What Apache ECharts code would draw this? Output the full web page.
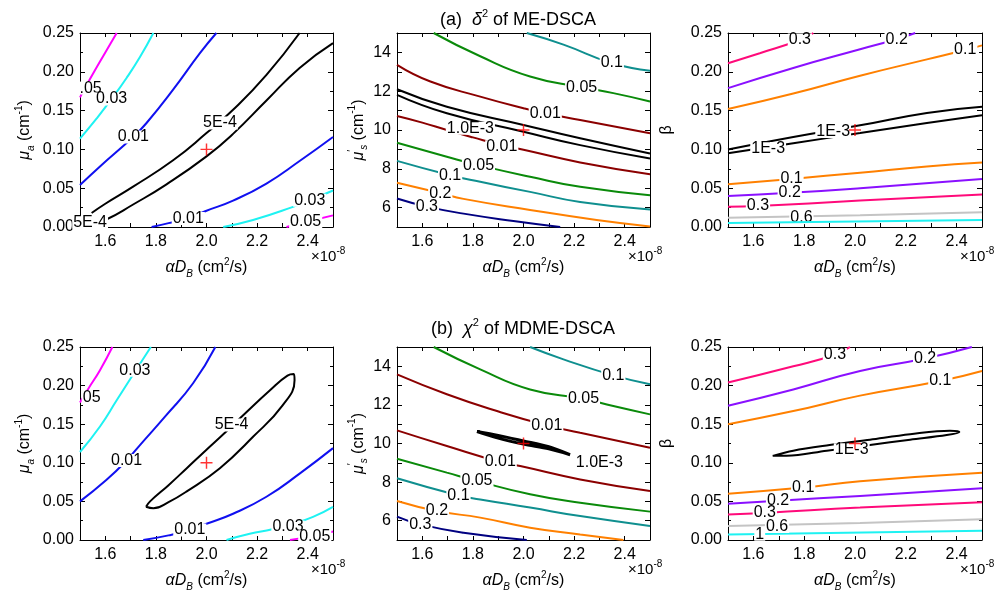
<!DOCTYPE html>
<html><head><meta charset="utf-8">
<script src="https://cdn.jsdelivr.net/npm/echarts@6/dist/echarts.min.js"></script>
<style>html,body{margin:0;padding:0;background:#fff}#c{width:1000px;height:599px}</style>
</head><body><div id="c"></div>
<script>
// ---------- Panel 1 : (a) mu_a vs alphaDB ----------
const a1_005_up = [[1.5,0.167],[1.54,0.191],[1.6,0.225],[1.645,0.25]];
const a1_003_up = [[1.5,0.114],[1.566,0.140],[1.625,0.165],[1.684,0.192],[1.737,0.219],[1.79,0.25]];
const a1_001_up = [[1.5,0.054],[1.579,0.078],[1.71,0.116],[1.763,0.134],[1.868,0.177],[1.974,0.224],[2.039,0.25]];
const a1_5e4_up = [[1.546,0.018],[1.6,0.03],[1.71,0.052],[1.868,0.086],[2.0,0.121],[2.105,0.151],[2.237,0.196],[2.368,0.25]];
const a1_5e4_lo = [[1.52,0.0],[1.6,0.009],[1.71,0.029],[1.842,0.055],[2.0,0.091],[2.105,0.12],[2.237,0.163],[2.368,0.205],[2.5,0.237]];
const a1_001_lo = [[1.783,0],[1.85,0.005],[1.93,0.012],[2.0,0.021],[2.105,0.034],[2.237,0.056],[2.368,0.085],[2.5,0.116]];
const a1_003_lo = [[2.066,0],[2.184,0.009],[2.342,0.026],[2.42,0.036],[2.5,0.047]];
const a1_005_lo = [[2.316,0],[2.4,0.007],[2.5,0.015]];
const a1_labels = [['.05',1.542,0.179],['0.03',1.625,0.165],['0.01',1.711,0.116],['5E-4',2.053,0.134],['5E-4',1.54,0.006],['0.01',1.928,0.011],['0.03',2.408,0.0345],['0.05',2.392,0.0065]];
const a1_cross = [[2.0,0.1]];

// ---------- Panel 2 : (a) mu_s' vs alphaDB ----------
const a2_01_up = [[2.013,15],[2.158,14.4],[2.349,13.45],[2.5,13.05]];
const a2_005_up = [[1.645,15],[1.829,13.8],[2.026,12.76],[2.23,12.2],[2.355,11.9],[2.5,11.47]];
const a2_001_up = [[1.5,13.36],[1.632,12.5],[1.829,11.72],[2.0,11.12],[2.086,10.86],[2.224,10.52],[2.5,9.83]];
const a2_k_up = [[1.5,12.1],[1.697,11.2],[2.0,10.26],[2.224,9.57],[2.5,8.79]];
const a2_k_lo = [[1.5,11.81],[1.697,10.86],[2.0,9.91],[2.224,9.22],[2.5,8.53]];
const a2_001_lo = [[1.5,10.72],[1.6,10.38],[1.697,10.0],[1.8,9.62],[1.914,9.22],[2.0,8.98],[2.224,8.33],[2.5,7.72]];
const a2_005_lo = [[1.5,9.34],[1.697,8.62],[1.822,8.19],[2.026,7.59],[2.224,7.07],[2.5,6.64]];
const a2_01_lo = [[1.5,8.41],[1.71,7.67],[1.829,7.33],[2.026,6.81],[2.224,6.29],[2.5,5.9]];
const a2_02 = [[1.5,7.28],[1.671,6.75],[1.763,6.45],[2.026,5.88],[2.289,5.36],[2.5,5.03]];
const a2_03 = [[1.5,6.47],[1.618,6.05],[1.763,5.69],[1.96,5.31],[2.145,5.0]];
const a2_labels = [['0.1',2.349,13.45],['0.05',2.23,12.2],['0.01',2.086,10.86],['1.0E-3',1.79,10.09],['0.01',1.914,9.14],['0.05',1.822,8.19],['0.1',1.71,7.67],['0.2',1.671,6.72],['0.3',1.618,6.03]];
const a2_cross = [[2.0,10.0]];

// ---------- Panel 3 : (a) beta vs alphaDB ----------
const a3_03_up = [[1.5,0.211],[1.625,0.224],[1.783,0.241],[1.836,0.25]];
const a3_02_up = [[1.5,0.179],[1.757,0.205],[2.02,0.229],[2.164,0.242],[2.237,0.25]];
const a3_01_up = [[1.5,0.152],[1.757,0.172],[2.02,0.195],[2.283,0.216],[2.434,0.228],[2.5,0.234]];
const a3_k_up = [[1.5,0.1],[1.757,0.116],[2.02,0.131],[2.283,0.147],[2.5,0.155]];
const a3_k_lo = [[1.5,0.095],[1.757,0.108],[2.02,0.121],[2.283,0.134],[2.5,0.144]];
const a3_01_lo = [[1.5,0.055],[1.75,0.062],[2.02,0.07],[2.283,0.078],[2.5,0.083]];
const a3_02_lo = [[1.5,0.040],[1.743,0.044],[2.02,0.05],[2.5,0.062]];
const a3_03_lo = [[1.5,0.026],[1.618,0.027],[2.02,0.034],[2.5,0.042]];
const a3_06 = [[1.5,0.012],[2.02,0.015],[2.5,0.019]];
const a3_1 = [[1.5,0.005],[2.5,0.009]];
const a3_labels = [['0.3',1.783,0.241],['0.2',2.164,0.242],['0.1',2.434,0.228],['1E-3',1.914,0.123],['1E-3',1.658,0.101],['0.1',1.75,0.062],['0.2',1.743,0.044],['0.3',1.618,0.027],['0.6',1.789,0.012]];
const a3_cross = [[2.0,0.125]];

// ---------- Panel 4 : (b) mu_a vs alphaDB ----------
const b1_005_up = [[1.5,0.178],[1.533,0.196],[1.579,0.22],[1.628,0.25]];
const b1_003_up = [[1.5,0.114],[1.579,0.147],[1.645,0.181],[1.717,0.218],[1.78,0.25]];
const b1_001_up = [[1.5,0.05],[1.605,0.078],[1.684,0.103],[1.737,0.123],[1.842,0.162],[1.947,0.203],[2.035,0.25]];
const b1_5e4 = [[1.761,0.043],[1.777,0.050],[1.85,0.071],[1.922,0.093],[2.0,0.117],[2.060,0.135],[2.146,0.162],[2.251,0.194],[2.320,0.213],[2.345,0.215],[2.348,0.207],[2.30,0.174],[2.185,0.134],[2.053,0.093],[1.922,0.063],[1.85,0.049],[1.79,0.041],[1.761,0.043]];
const b1_001_lo = [[1.75,0],[1.85,0.006],[1.934,0.013],[2.0,0.021],[2.105,0.034],[2.237,0.056],[2.368,0.086],[2.5,0.119]];
const b1_003_lo = [[2.079,0],[2.171,0.008],[2.26,0.014],[2.34,0.021],[2.421,0.030],[2.5,0.043]];
const b1_005_lo = [[2.33,0],[2.42,0.005],[2.5,0.011]];
const b1_labels = [['05',1.546,0.185],['0.03',1.717,0.22],['0.01',1.684,0.103],['5E-4',2.099,0.149],['0.01',1.934,0.013],['0.03',2.322,0.017],['0.05',2.428,0.0043]];
const b1_cross = [[2.0,0.1]];

// ---------- Panel 5 : (b) mu_s' vs alphaDB ----------
const b2_01_up = [[2.026,15],[2.158,14.36],[2.355,13.53],[2.5,13.07]];
const b2_005_up = [[1.645,15],[1.829,13.84],[2.026,12.8],[2.237,12.32],[2.355,11.94],[2.5,11.51]];
const b2_001_up = [[1.5,13.58],[1.697,12.55],[1.895,11.68],[2.092,10.94],[2.224,10.56],[2.5,9.78]];
const b2_1e3 = [[1.816,10.62],[1.9,10.42],[2.0,10.13],[2.1,9.83],[2.184,9.42],[2.1,9.72],[2.0,9.97],[1.9,10.28],[1.816,10.62]];
const b2_001_lo = [[1.5,10.68],[1.697,9.87],[1.908,9.04],[1.987,8.83],[2.224,8.14],[2.5,7.54]];
const b2_005_lo = [[1.5,9.21],[1.697,8.49],[1.816,8.06],[2.026,7.37],[2.224,6.93],[2.5,6.47]];
const b2_01_lo = [[1.5,8.2],[1.743,7.31],[1.829,7.1],[2.026,6.68],[2.224,6.24],[2.5,5.73]];
const b2_02 = [[1.5,7.02],[1.658,6.5],[1.829,6.16],[2.026,5.64],[2.224,5.29],[2.395,5.0]];
const b2_03 = [[1.5,6.21],[1.592,5.81],[1.763,5.38],[2.013,5.0]];
const b2_labels = [['0.1',2.355,13.53],['0.05',2.237,12.32],['0.01',2.092,10.94],['1.0E-3',2.3,9.0],['0.01',1.908,9.04],['0.05',1.816,8.06],['0.1',1.743,7.31],['0.2',1.658,6.5],['0.3',1.592,5.81]];
const b2_cross = [[2.0,10.0]];

// ---------- Panel 6 : (b) beta vs alphaDB ----------
const b3_03_up = [[1.5,0.204],[1.757,0.225],[1.921,0.24],[1.98,0.25]];
const b3_02_up = [[1.5,0.174],[1.757,0.195],[2.02,0.219],[2.276,0.235],[2.46,0.25]];
const b3_01_up = [[1.5,0.15],[1.757,0.167],[2.02,0.187],[2.336,0.206],[2.5,0.219]];
const b3_1e3 = [[1.676,0.109],[1.757,0.1157],[1.9,0.123],[2.059,0.130],[2.217,0.137],[2.374,0.1416],[2.411,0.140],[2.361,0.136],[2.217,0.130],[2.059,0.123],[1.889,0.1157],[1.731,0.109],[1.676,0.109]];
const b3_01_lo = [[1.5,0.06],[1.796,0.068],[2.02,0.076],[2.5,0.087]];
const b3_02_lo = [[1.5,0.047],[1.697,0.051],[2.02,0.057],[2.5,0.067]];
const b3_03_lo = [[1.5,0.033],[1.645,0.035],[2.02,0.042],[2.5,0.049]];
const b3_06 = [[1.5,0.018],[2.02,0.022],[2.5,0.027]];
const b3_1 = [[1.5,0.007],[2.5,0.012]];
const b3_labels = [['0.3',1.921,0.24],['0.2',2.276,0.235],['0.1',2.336,0.206],['1E-3',1.987,0.117],['0.1',1.796,0.068],['0.2',1.697,0.051],['0.3',1.645,0.035],['0.6',1.693,0.0175],['1',1.625,0.0075]];
const b3_cross = [[2.0,0.125]];

// ---------- styling ----------
const FONT = '"Liberation Sans", Arial, sans-serif';
const COL = {mag:'#ff00ff', cyan:'#1ef2f2', blue:'#1010f0', black:'#000000', teal:'#0f8f8f', green:'#0a8a0a',
  dred:'#8b0000', orange:'#ff8000', navy:'#000080', pink:'#ff0a7a', purple:'#8a10ff', gray:'#c4c4c4'};

const grids = [
  {left:80, top:33, width:253, height:194},
  {left:397, top:33, width:253, height:194},
  {left:728, top:33, width:254, height:194},
  {left:80, top:347, width:253, height:193},
  {left:397, top:347, width:253, height:193},
  {left:728, top:347, width:254, height:193}
];

const richBase = {
  n:{fontFamily:FONT, fontSize:16, lineHeight:22, verticalAlign:'middle', color:'#000'},
  i:{fontFamily:FONT, fontSize:16, lineHeight:22, verticalAlign:'middle', fontStyle:'italic', color:'#000'},
  sup:{fontFamily:FONT, fontSize:10, lineHeight:10, verticalAlign:'top', color:'#000'},
  sub:{fontFamily:FONT, fontSize:10, lineHeight:10, verticalAlign:'bottom', color:'#000'},
  isub:{fontFamily:FONT, fontSize:10, lineHeight:10, verticalAlign:'bottom', fontStyle:'italic', color:'#000'}
};
const xName = '{i|αD}{isub|B}{n| (cm}{sup|2}{n|/s)}';
const yNames = ['{i|μ}{isub|a}{n| (cm}{sup|-1}{n|)}', '{i|μ}{sup|′}{isub|s}{n| (cm}{sup|-1}{n|)}', '{n|β}'];

const xAxes = [], yAxes = [];
grids.forEach((g, k) => {
  const col = k % 3;
  const axLine = {show:true, onZero:false, lineStyle:{color:'#000', width:1}};
  const xBase = {gridIndex:k, type:'value', min:1.5, max:2.5, interval:0.1, axisLine:axLine,
    axisTick:{show:true, inside:true, length:4, lineStyle:{color:'#000'}}, splitLine:{show:false}};
  xAxes.push(Object.assign({}, xBase, {position:'bottom',
    axisLabel:{color:'#000', fontSize:16, fontFamily:FONT, margin:7,
      formatter: v => (Math.round(v*10) % 2 === 0 ? v.toFixed(1) : '')},
    name:xName, nameLocation:'middle', nameGap:30, nameTextStyle:{rich:richBase}}));
  xAxes.push(Object.assign({}, xBase, {position:'top', axisLabel:{show:false}}));
  let yb;
  if (col === 1) {
    yb = {min:5, max:15, interval:1, fmt: v => (v % 2 === 0 ? String(v) : ''), minor:false};
  } else {
    yb = {min:0, max:0.25, interval:0.05, fmt: v => v.toFixed(2), minor:true};
  }
  const yBase = {gridIndex:k, type:'value', min:yb.min, max:yb.max, interval:yb.interval, axisLine:axLine,
    axisTick:{show:true, inside:true, length:5, lineStyle:{color:'#000'}},
    minorTick:{show:yb.minor, splitNumber:2, length:3, lineStyle:{color:'#000'}},
    splitLine:{show:false}, minorSplitLine:{show:false}};
  yAxes.push(Object.assign({}, yBase, {position:'left',
    axisLabel:{color:'#000', fontSize:16, fontFamily:FONT, margin:6, formatter: yb.fmt},
    name:yNames[col], nameLocation:'middle', nameRotate:90, nameGap: col === 1 ? 24 : (col === 2 ? 50 : 44),
    nameTextStyle:{rich:richBase}}));
  yAxes.push(Object.assign({}, yBase, {position:'right', axisLabel:{show:false}}));
});

function ln(g, data, color, w, z, sm) {
  return {type:'line', xAxisIndex:g*2, yAxisIndex:g*2, data:data, symbol:'none', showSymbol:false,
    smooth: sm === undefined ? 0.5 : sm, lineStyle:{color:color, width:w || 2}, z: z || 2, silent:true, animation:false};
}
function lbl(g, items) {
  return {type:'scatter', xAxisIndex:g*2, yAxisIndex:g*2, symbolSize:0, z:5, silent:true, animation:false,
    itemStyle:{color:'#000', opacity:1},
    label:{show:true, position:'inside', formatter:'{b}', color:'#000', opacity:1, fontSize:16, fontFamily:FONT,
      textBorderWidth:0, backgroundColor:'#fff', padding:[0,1], lineHeight:13},
    data: items.map(t => ({name:t[0], value:[t[1], t[2]]}))};
}
const CROSS = 'path://M4.4,0H5.6V4.4H10V5.6H5.6V10H4.4V5.6H0V4.4H4.4Z';
function cross(g, data) {
  return {type:'scatter', xAxisIndex:g*2, yAxisIndex:g*2, symbol:CROSS, symbolSize:12, z:10, silent:true,
    animation:false, itemStyle:{color:'#ff0000'}, data:data};
}

const series = [
  ln(0,a1_005_up,COL.mag), ln(0,a1_003_up,COL.cyan), ln(0,a1_001_up,COL.blue),
  ln(0,a1_5e4_up,COL.black), ln(0,a1_5e4_lo,COL.black), ln(0,a1_001_lo,COL.blue),
  ln(0,a1_003_lo,COL.cyan), ln(0,a1_005_lo,COL.mag), lbl(0,a1_labels), cross(0,a1_cross),

  ln(1,a2_01_up,COL.teal), ln(1,a2_005_up,COL.green), ln(1,a2_001_up,COL.dred),
  ln(1,a2_k_up,COL.black), ln(1,a2_k_lo,COL.black), ln(1,a2_001_lo,COL.dred),
  ln(1,a2_005_lo,COL.green), ln(1,a2_01_lo,COL.teal), ln(1,a2_02,COL.orange), ln(1,a2_03,COL.navy),
  lbl(1,a2_labels), cross(1,a2_cross),

  ln(2,a3_03_up,COL.pink), ln(2,a3_02_up,COL.purple), ln(2,a3_01_up,COL.orange),
  ln(2,a3_k_up,COL.black), ln(2,a3_k_lo,COL.black), ln(2,a3_01_lo,COL.orange),
  ln(2,a3_02_lo,COL.purple), ln(2,a3_03_lo,COL.pink), ln(2,a3_06,COL.gray), ln(2,a3_1,COL.cyan,2,6),
  lbl(2,a3_labels), cross(2,a3_cross),

  ln(3,b1_005_up,COL.mag), ln(3,b1_003_up,COL.cyan), ln(3,b1_001_up,COL.blue),
  ln(3,b1_5e4,COL.black,2,2,0.45), ln(3,b1_001_lo,COL.blue), ln(3,b1_003_lo,COL.cyan),
  ln(3,b1_005_lo,COL.mag), lbl(3,b1_labels), cross(3,b1_cross),

  ln(4,b2_01_up,COL.teal), ln(4,b2_005_up,COL.green), ln(4,b2_001_up,COL.dred),
  ln(4,b2_1e3,COL.black,3,2,0.3), ln(4,b2_001_lo,COL.dred), ln(4,b2_005_lo,COL.green),
  ln(4,b2_01_lo,COL.teal), ln(4,b2_02,COL.orange), ln(4,b2_03,COL.navy),
  lbl(4,b2_labels), cross(4,b2_cross),

  ln(5,b3_03_up,COL.pink), ln(5,b3_02_up,COL.purple), ln(5,b3_01_up,COL.orange),
  ln(5,b3_1e3,COL.black,2,2,0.35), ln(5,b3_01_lo,COL.orange), ln(5,b3_02_lo,COL.purple),
  ln(5,b3_03_lo,COL.pink), ln(5,b3_06,COL.gray), ln(5,b3_1,COL.cyan),
  lbl(5,b3_labels), cross(5,b3_cross)
];

const titleRich = {
  n:{fontFamily:FONT, fontSize:18, lineHeight:24, verticalAlign:'middle', fill:'#000'},
  i:{fontFamily:FONT, fontSize:18, lineHeight:24, verticalAlign:'middle', fontStyle:'italic', fill:'#000'},
  sup:{fontFamily:FONT, fontSize:11, lineHeight:11, verticalAlign:'top', fill:'#000'}
};
const expRich = {
  n:{fontFamily:FONT, fontSize:15, lineHeight:22, verticalAlign:'middle', fill:'#000'},
  sup:{fontFamily:FONT, fontSize:10, lineHeight:10, verticalAlign:'top', fill:'#000'}
};
const graphics = [
  {type:'text', x:518, y:20, style:{text:'{n|(a)  }{i|δ}{sup|2}{n| of ME-DSCA}', rich:titleRich, align:'center', verticalAlign:'middle'}},
  {type:'text', x:523, y:329, style:{text:'{n|(b)  }{i|χ}{sup|2}{n| of MDME-DSCA}', rich:titleRich, align:'center', verticalAlign:'middle'}}
];
grids.forEach(g => {
  graphics.push({type:'text', x:g.left + g.width - 22, y:g.top + g.height + 30,
    style:{text:'{n|×10}{sup|-8}', rich:expRich, align:'left', verticalAlign:'middle'}});
});

const chart = echarts.init(document.getElementById('c'), null, {renderer:'canvas'});
chart.setOption({
  animation:false,
  backgroundColor:'#fff',
  grid: grids,
  xAxis: xAxes,
  yAxis: yAxes,
  series: series,
  graphic: graphics
});
</script></body></html>
